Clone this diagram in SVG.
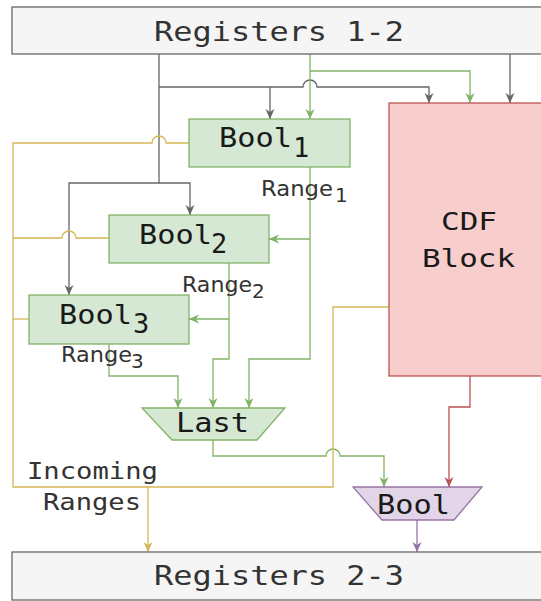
<svg xmlns="http://www.w3.org/2000/svg" width="541" height="601" viewBox="0 0 541 601">
<style>
.mono{font-family:"DejaVu Sans Mono","Liberation Mono",monospace;fill:#1a1a1a}
.sans{font-family:"DejaVu Sans","Liberation Sans",sans-serif;fill:#333}
.reg{fill:#f5f5f5;stroke:#666;stroke-width:1.3}
.grn{fill:#d5e8d4;stroke:#82b366;stroke-width:1.3}
.red{fill:#f8cecc;stroke:#b85450;stroke-width:1.3}
.pur{fill:#e1d5e7;stroke:#9673a6;stroke-width:1.3}
.c{fill:none;stroke-width:1.3}
.cg{stroke:#666}
.cgr{stroke:#82b366}
.cr{stroke:#b85450}
.cp{stroke:#9673a6}
.cy{stroke:#d6b656}
</style>
<defs>
<marker id="ag" viewBox="0 0 10 10" refX="10" refY="5" markerWidth="10" markerHeight="10" orient="auto" markerUnits="userSpaceOnUse"><path d="M0,0.5 L10,5 L0,9.5 L3,5 z" fill="#666"/></marker>
<marker id="agr" viewBox="0 0 10 10" refX="10" refY="5" markerWidth="10" markerHeight="10" orient="auto" markerUnits="userSpaceOnUse"><path d="M0,0.5 L10,5 L0,9.5 L3,5 z" fill="#82b366"/></marker>
<marker id="ar" viewBox="0 0 10 10" refX="10" refY="5" markerWidth="10" markerHeight="10" orient="auto" markerUnits="userSpaceOnUse"><path d="M0,0.5 L10,5 L0,9.5 L3,5 z" fill="#b85450"/></marker>
<marker id="ap" viewBox="0 0 10 10" refX="10" refY="5" markerWidth="10" markerHeight="10" orient="auto" markerUnits="userSpaceOnUse"><path d="M0,0.5 L10,5 L0,9.5 L3,5 z" fill="#9673a6"/></marker>
<marker id="ay" viewBox="0 0 10 10" refX="10" refY="5" markerWidth="10" markerHeight="10" orient="auto" markerUnits="userSpaceOnUse"><path d="M0,0.5 L10,5 L0,9.5 L3,5 z" fill="#d6b656"/></marker>
</defs>
<rect width="541" height="601" fill="#fff"/>

<g id="connectors">
<path class="c cg" d="M159,54 V183 H69 V295" marker-end="url(#ag)"/>
<path class="c cg" d="M159,183 H190 V215" marker-end="url(#ag)"/>
<path class="c cg" d="M159,87 H270 V119" marker-end="url(#ag)"/>
<path class="c cg" d="M270,87 H303 A7,7 0 0 1 317,87 H429 V103" marker-end="url(#ag)"/>
<path class="c cg" d="M510,54 V103" marker-end="url(#ag)"/>

<path class="c cgr" d="M310,54 V119" marker-end="url(#agr)"/>
<path class="c cgr" d="M310,71 H470 V103" marker-end="url(#agr)"/>
<path class="c cgr" d="M310,167 V359 H249 V408" marker-end="url(#agr)"/>
<path class="c cgr" d="M310,239 H269" marker-end="url(#agr)"/>
<path class="c cgr" d="M229,263 V359 H213 V408" marker-end="url(#agr)"/>
<path class="c cgr" d="M229,319 H189" marker-end="url(#agr)"/>
<path class="c cgr" d="M109,344 V376 H178 V408" marker-end="url(#agr)"/>
<path class="c cgr" d="M213,440 V456 H326 A7,7 0 0 1 340,456 H384 V487" marker-end="url(#agr)"/>

<path class="c cr" d="M470,376 V407 H449 V487" marker-end="url(#ar)"/>
<path class="c cp" d="M417,520 V552" marker-end="url(#ap)"/>

<path class="c cy" d="M189,143 H166 A7,7 0 0 0 152,143 H13 V487 H333 V307 H389"/>
<path class="c cy" d="M109,238 H76 A7,7 0 0 0 62,238 H13"/>
<path class="c cy" d="M29,319 H13"/>
<path class="c cy" d="M148,487 V552" marker-end="url(#ay)"/>
</g>

<g id="registers12">
<rect class="reg" x="12" y="7" width="540" height="47"/>
<text class="mono" x="154" y="41" font-size="27" textLength="250" lengthAdjust="spacingAndGlyphs" style="fill:#333">Registers 1-2</text>
</g>

<g id="cdf">
<rect class="red" x="389" y="103" width="160" height="273"/>
<text class="mono" x="441" y="230" font-size="25" textLength="56" lengthAdjust="spacingAndGlyphs">CDF</text>
<text class="mono" x="422" y="267" font-size="25" textLength="93" lengthAdjust="spacingAndGlyphs">Block</text>
</g>

<g id="bool1">
<rect class="grn" x="189" y="119" width="161" height="48"/>
<text class="mono" x="219" y="147" font-size="26" textLength="73" lengthAdjust="spacingAndGlyphs">Bool</text>
<text class="mono" x="293" y="157" font-size="27">1</text>
</g>
<g id="range1">
<text class="sans" x="261" y="196" font-size="22" textLength="72" lengthAdjust="spacingAndGlyphs">Range</text>
<text class="sans" x="335" y="202" font-size="20">1</text>
</g>

<g id="bool2">
<rect class="grn" x="109" y="215" width="160" height="48"/>
<text class="mono" x="139" y="244" font-size="26" textLength="73" lengthAdjust="spacingAndGlyphs">Bool</text>
<text class="mono" x="211" y="253" font-size="27">2</text>
</g>
<g id="range2">
<text class="sans" x="182" y="292" font-size="22" textLength="70" lengthAdjust="spacingAndGlyphs">Range</text>
<text class="sans" x="252" y="298" font-size="20">2</text>
</g>

<g id="bool3">
<rect class="grn" x="29" y="295" width="160" height="49"/>
<text class="mono" x="59" y="324" font-size="26" textLength="73" lengthAdjust="spacingAndGlyphs">Bool</text>
<text class="mono" x="133" y="333" font-size="27">3</text>
</g>
<g id="range3">
<text class="sans" x="61" y="362" font-size="22" textLength="71" lengthAdjust="spacingAndGlyphs">Range</text>
<text class="sans" x="131" y="368" font-size="20">3</text>
</g>

<g id="last">
<polygon class="grn" points="142,408 285,408 257,440 172,440"/>
<text class="mono" x="176" y="432" font-size="26" textLength="73" lengthAdjust="spacingAndGlyphs">Last</text>
</g>

<g id="incoming">
<text class="mono" x="27" y="479" font-size="23" textLength="131" lengthAdjust="spacingAndGlyphs" style="fill:#333">Incoming</text>
<text class="mono" x="43" y="510" font-size="23" textLength="98" lengthAdjust="spacingAndGlyphs" style="fill:#333">Ranges</text>
</g>

<g id="boolout">
<polygon class="pur" points="353,487 482,487 454,520 382,520"/>
<text class="mono" x="377" y="514" font-size="26" textLength="73" lengthAdjust="spacingAndGlyphs">Bool</text>
</g>

<g id="registers23">
<rect class="reg" x="12" y="552" width="540" height="48"/>
<text class="mono" x="154" y="585" font-size="27" textLength="250" lengthAdjust="spacingAndGlyphs" style="fill:#333">Registers 2-3</text>
</g>
</svg>
